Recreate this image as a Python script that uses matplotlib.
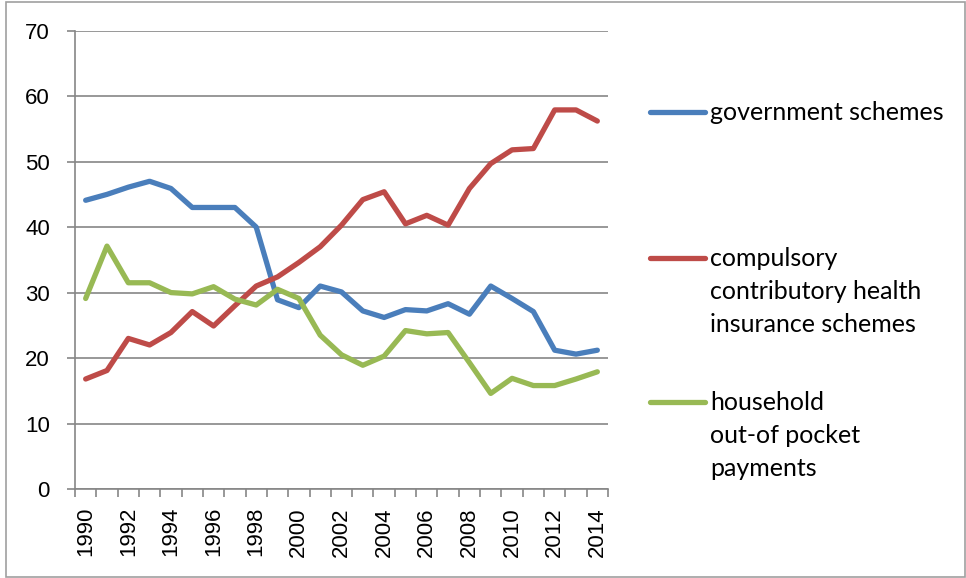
import matplotlib.pyplot as plt
from matplotlib.lines import Line2D
from matplotlib.patches import Rectangle

# datos (porcentaje del gasto en salud)
anios = list(range(1990, 2015))
gobierno = [44.1, 45.0, 46.1, 47.0, 45.9, 43.0, 43.0, 43.0, 40.0, 28.9, 27.7, 31.0, 30.1,
            27.2, 26.2, 27.4, 27.2, 28.3, 26.7, 31.0, 29.1, 27.1, 21.2, 20.6, 21.2]
seguro = [16.8, 18.1, 23.0, 22.0, 23.9, 27.1, 24.9, 28.0, 31.0, 32.4, 34.6, 37.0, 40.3,
          44.2, 45.4, 40.5, 41.8, 40.3, 45.9, 49.7, 51.8, 52.0, 57.9, 57.9, 56.2]
hogares = [29.1, 37.1, 31.5, 31.5, 30.0, 29.8, 30.9, 29.0, 28.1, 30.5, 29.1, 23.5, 20.5,
           18.9, 20.3, 24.2, 23.7, 23.9, 19.3, 14.6, 16.9, 15.8, 15.8, 16.8, 17.9]

etiquetas = ['government schemes',
             'compulsory\ncontributory health\ninsurance schemes',
             'household\nout-of pocket\npayments']
colores = ['#4A7EBB', '#BE4B48', '#98B954']
series = [gobierno, seguro, hogares]

gris = '#868686'

fig = plt.figure(figsize=(9.66, 5.78), dpi=100)
ax = fig.add_axes([75 / 966, 1 - 489 / 578, (608 - 75) / 966, (489 - 30.7) / 578])

for valores, color in zip(series, colores):
    ax.plot(anios, valores, color=color, linewidth=3.8, solid_capstyle='round',
            solid_joinstyle='round', zorder=3)

ax.set_ylim(0, 70)
ax.set_yticks(range(0, 71, 10))
ax.set_xlim(anios[0] - 0.5, anios[-1] + 0.5)

# ticks entre categorias (estilo Excel), etiquetas cada dos anios
ax.set_xticks([a - 0.5 for a in anios] + [anios[-1] + 0.5])
ax.set_xticklabels([])
ax.set_xticks(anios[::2], minor=True)
ax.set_xticklabels([str(a) for a in anios[::2]], minor=True, rotation=90,
                   fontsize=16, fontfamily='Liberation Sans')
ax.tick_params(axis='x', which='major', length=6, width=1.2, color=gris, direction='out')
ax.tick_params(axis='x', which='minor', length=0, pad=13)
ax.tick_params(axis='y', length=6, width=1.2, color=gris, pad=12, labelsize=16)
for lab in ax.get_yticklabels():
    lab.set_fontfamily('Liberation Sans')

ax.grid(axis='y', color=gris, linewidth=1.2, zorder=0)
ax.set_axisbelow(True)
for lado in ['top', 'right']:
    ax.spines[lado].set_visible(False)
for lado in ['left', 'bottom']:
    ax.spines[lado].set_color(gris)
    ax.spines[lado].set_linewidth(1.2)

# leyenda manual a la derecha, una linea de texto cada 32 px
y_leyenda = [112, 258, 402]
for etiqueta, color, yl in zip(etiquetas, colores, y_leyenda):
    yf = 1 - yl / 578
    fig.add_artist(Line2D([650 / 966, 705 / 966], [yf, yf], color=color,
                          linewidth=3.8, solid_capstyle='round'))
    for i, linea in enumerate(etiqueta.split('\n')):
        fig.text(710 / 966, 1 - (yl + 8.5 + 32.5 * i) / 578, linea, fontsize=18,
                 fontfamily='Lato', va='baseline', ha='left')

# marco exterior
fig.add_artist(Rectangle((6 / 966, 1 - 577 / 578), 959 / 966, 575 / 578,
                         transform=fig.transFigure, fill=False, edgecolor='#A0A0A0',
                         linewidth=1.2))

fig.savefig('out.png', dpi=100)
